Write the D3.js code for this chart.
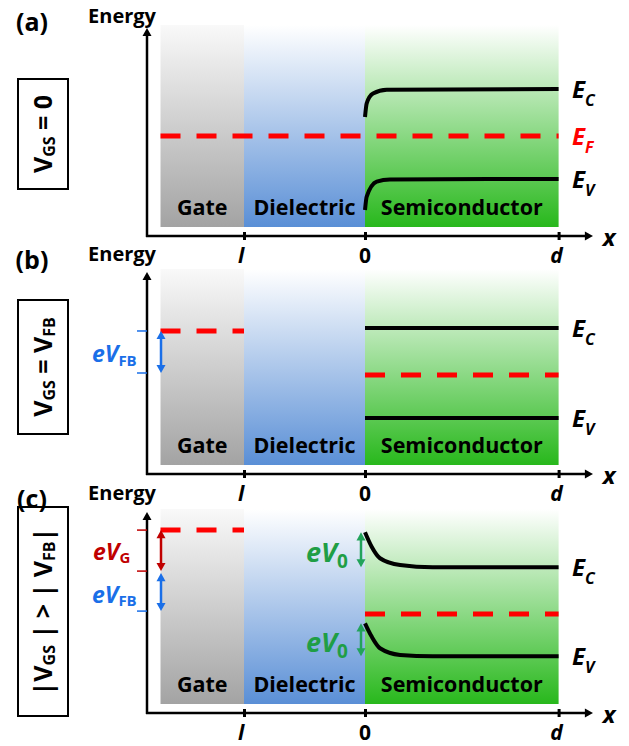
<!DOCTYPE html>
<html><head><meta charset="utf-8">
<script src="https://cdn.jsdelivr.net/npm/d3@7"></script>
<style>body{margin:0;background:#fff}</style>
</head><body><svg id="c" width="629" height="746"></svg>
<script>
// ---------- data ----------
const regionNames = ["Gate", "Dielectric", "Semiconductor"];
const regionEdges = [-1.69, -1, 0, 1.6];
const xTickValues = [-1, 0, 1.6];
const xTickLabels = ["l", "0", "d"];
const panelLabels = ["(a)", "(b)", "(c)"];

// panel (a): V_GS = 0
const bandXA_C = [0, 0.014, 0.066, 0.18, 1.6];
const ecA = [5.72, 6.38, 6.85, 7.03, 7.07];
const bandXA_V = [0, 0.014, 0.097, 0.206, 1.6];
const evA = [1.25, 1.89, 2.61, 2.72, 2.74];
const efA = 4.81;

// panel (b): V_GS = V_FB
const bandXB = [0, 1.6];
const ecB = [7.23, 7.23];
const evB = [2.77, 2.77];
const efB = 4.9;
const efGateB = 7.08;
const fbLowB = 5.0;

// panel (c): |V_GS| > |V_FB|
const bandXC = [0, 0.055, 0.124, 0.29, 0.56, 1.6];
const ecC = [8.99, 8.27, 7.70, 7.36, 7.25, 7.25];
const evC = [4.46, 3.80, 3.22, 2.89, 2.82, 2.82];
const efC = 4.93;
const efGateC = 9.10;
const gLowC = 7.06;
const fbLowC = 5.07;

// ---------- layout ----------
const FONT = "'Open Sans', 'Liberation Sans', sans-serif";
const svg = d3.select("#c");
const x = d3.scaleLinear().domain([-1, 0]).range([244, 365]);
const xAxisStart = 147, xAxisEnd = 593;
const panels = [
  {axisY: 236, h: 208, box: [79, 189]},
  {axisY: 474, h: 202, box: [300, 434]},
  {axisY: 713, h: 201, box: [507, 716]}
];
const colors = {
  gate: "#a3a3a3", diel: "#5a8fd6", semi: "#28b81c",
  red: "#ff0000", darkred: "#c00000", blue: "#1a6fe8", green: "#1f9e45", greenArrow: "#22a35a"
};

// gradients
const defs = svg.append("defs");
[["gGate", colors.gate, "#f9f9f9"], ["gDiel", colors.diel, "#ffffff"], ["gSemi", colors.semi, "#ffffff"]]
  .forEach(([id, bottom, top]) => {
    const g = defs.append("linearGradient").attr("id", id)
      .attr("x1", 0).attr("y1", 0).attr("x2", 0).attr("y2", 1);
    g.append("stop").attr("offset", 0).attr("stop-color", top);
    g.append("stop").attr("offset", 1).attr("stop-color", bottom);
  });
const gradIds = ["gGate", "gDiel", "gSemi"];

function arrowHead(g, tipX, tipY, dir, color, size) {
  const s = size || 5, L = s * 1.8;
  let pts;
  if (dir === "up") pts = [[tipX, tipY], [tipX - s, tipY + L], [tipX + s, tipY + L]];
  else if (dir === "down") pts = [[tipX, tipY], [tipX - s, tipY - L], [tipX + s, tipY - L]];
  else pts = [[tipX, tipY], [tipX - L, tipY - s], [tipX - L, tipY + s]];
  g.append("path").attr("d", d3.line()(pts) + "Z").attr("fill", color);
}

function doubleArrow(g, xPos, y1, y2, color) {
  const s = 4.5, L = 8;
  g.append("line").attr("x1", xPos).attr("x2", xPos).attr("y1", y1 + L - 1).attr("y2", y2 - L + 1)
    .attr("stroke", color).attr("stroke-width", 2.5);
  arrowHead(g, xPos, y1, "up", color, s);
  arrowHead(g, xPos, y2, "down", color, s);
}

function subText(g, xPos, yPos, parts, opts) {
  const t = g.append("text").attr("x", xPos).attr("y", yPos)
    .attr("font-family", FONT).attr("font-weight", "bold")
    .attr("fill", opts.color || "#000")
    .attr("font-size", opts.size);
  if (opts.anchor) t.attr("text-anchor", opts.anchor);
  if (opts.transform) t.attr("transform", opts.transform);
  let shifted = 0;
  parts.forEach(p => {
    const ts = t.append("tspan").text(p.t);
    if (p.italic) ts.attr("font-style", "italic");
    const target = p.sub ? (opts.subDy || 5) : 0;
    if (target !== shifted) { ts.attr("dy", target - shifted); shifted = target; }
    ts.attr("font-size", p.sub ? (opts.subSize || opts.size * 0.62) : opts.size);
  });
  return t;
}

const bandLine = d3.line().curve(d3.curveMonotoneX);

panels.forEach((P, i) => {
  const g = svg.append("g");
  const y = d3.scaleLinear().domain([0, 10]).range([P.axisY, P.axisY - P.h]);
  const topY = y(10);

  // regions
  regionNames.forEach((name, k) => {
    const x0 = x(regionEdges[k]), x1 = x(regionEdges[k + 1]);
    g.append("rect").attr("x", x0).attr("width", x1 - x0)
      .attr("y", topY - 3).attr("height", P.axisY - 9 - (topY - 3))
      .attr("fill", `url(#${gradIds[k]})`);
    g.append("text").attr("x", (x0 + x1) / 2).attr("y", P.axisY - 21)
      .attr("text-anchor", "middle").attr("font-family", FONT).attr("font-weight", "bold")
      .attr("font-size", 21.5).attr("fill", "#000").text(name);
  });

  // axes
  g.append("line").attr("x1", xAxisStart).attr("x2", xAxisStart)
    .attr("y1", P.axisY + 1).attr("y2", topY + 8).attr("stroke", "#000").attr("stroke-width", 2.5);
  arrowHead(g, xAxisStart, topY, "up", "#000", 4.5);
  g.append("line").attr("x1", xAxisStart - 1).attr("x2", xAxisEnd - 8)
    .attr("y1", P.axisY).attr("y2", P.axisY).attr("stroke", "#000").attr("stroke-width", 2.5);
  arrowHead(g, xAxisEnd, P.axisY, "right", "#000", 4.5);

  const ax = g.append("g").attr("transform", `translate(0,${P.axisY - 4})`)
    .call(d3.axisBottom(x).tickValues(xTickValues).tickSize(8).tickFormat(""));
  ax.select(".domain").remove();
  ax.selectAll(".tick line").attr("stroke", "#000").attr("stroke-width", 3);

  // tick labels below axis
  xTickValues.forEach((v, k) => {
    g.append("text").attr("x", x(v) + (k === 0 ? -3 : (k === 2 ? -2 : 0))).attr("y", P.axisY + 27)
      .attr("text-anchor", "middle").attr("font-family", FONT).attr("font-weight", "bold")
      .attr("font-style", k === 1 ? "normal" : "italic").attr("font-size", 21).text(xTickLabels[k]);
  });
  g.append("text").attr("x", 609).attr("y", P.axisY + 10).attr("text-anchor", "middle")
    .attr("font-family", FONT).attr("font-weight", "bold").attr("font-style", "italic")
    .attr("font-size", 24).text("x");

  // Energy + panel label
  g.append("text").attr("x", 122).attr("y", P.axisY - 213).attr("text-anchor", "middle")
    .attr("font-family", FONT).attr("font-weight", "bold").attr("font-size", 20).text("Energy");
  g.append("text").attr("x", 32).attr("y", P.axisY - 205).attr("text-anchor", "middle")
    .attr("font-family", FONT).attr("font-weight", "bold").attr("font-size", 25).text(panelLabels[i]);

  // box
  g.append("rect").attr("x", 18).attr("y", P.box[0]).attr("width", 50).attr("height", P.box[1] - P.box[0])
    .attr("fill", "none").attr("stroke", "#000").attr("stroke-width", 2);

  const cy = (P.box[0] + P.box[1]) / 2;
  let boxParts;
  if (i === 0) boxParts = [{t: "V"}, {t: "GS", sub: true}, {t: " = 0"}];
  else if (i === 1) boxParts = [{t: "V"}, {t: "GS", sub: true}, {t: " = V"}, {t: "FB", sub: true}];
  else boxParts = [{t: "|V"}, {t: "GS", sub: true}, {t: " | > | V"}, {t: "FB", sub: true}, {t: "|"}];
  subText(g, 0, 0, boxParts, {size: 25, subSize: 16, subDy: 3, anchor: "middle",
    transform: `translate(52,${cy}) rotate(-90)`});

  const dash = (x0, x1, v) => g.append("line").attr("x1", x(x0)).attr("x2", x(x1))
    .attr("y1", y(v)).attr("y2", y(v)).attr("stroke", colors.red).attr("stroke-width", 5)
    .attr("stroke-dasharray", "20,16");
  const band = (xs, vs) => g.append("path")
    .attr("d", bandLine(xs.map((xx, j) => [x(xx), y(vs[j])])))
    .attr("fill", "none").attr("stroke", "#000").attr("stroke-width", 4);
  const eLabel = (v, sub, color) => subText(g, 572, y(v) + 9,
    [{t: "E", italic: true}, {t: sub, sub: true, italic: true}],
    {size: 24, subSize: 16, subDy: 8, color: color});
  const tickMark = (v, color) => g.append("line").attr("x1", 137).attr("x2", 147)
    .attr("y1", y(v)).attr("y2", y(v)).attr("stroke", color).attr("stroke-width", 1.5);
  const eVLabel = (xPos, yPos, sub, color, size, subSize, subDy) => subText(g, xPos, yPos,
    [{t: "eV", italic: true}, {t: sub, sub: true}],
    {size: size, subSize: subSize, subDy: subDy, color: color});

  if (i === 0) {
    dash(regionEdges[0], 1.6, efA);
    band(bandXA_C, ecA);
    band(bandXA_V, evA);
    eLabel(ecA[ecA.length - 1], "C", "#000");
    eLabel(efA, "F", colors.red);
    eLabel(evA[evA.length - 1], "V", "#000");
  } else if (i === 1) {
    dash(regionEdges[0], -1, efGateB);
    dash(0, 1.6, efB);
    band(bandXB, ecB);
    band(bandXB, evB);
    eLabel(ecB[1], "C", "#000");
    eLabel(evB[1], "V", "#000");
    tickMark(efGateB, colors.blue);
    tickMark(fbLowB, colors.blue);
    doubleArrow(g, 161, y(efGateB), y(fbLowB), colors.blue);
    eVLabel(92, y(fbLowB) - 11, "FB", colors.blue, 23, 15, 4);
  } else {
    dash(regionEdges[0], -1, efGateC);
    dash(0, 1.6, efC);
    band(bandXC, ecC);
    band(bandXC, evC);
    eLabel(ecC[ecC.length - 1], "C", "#000");
    eLabel(evC[evC.length - 1], "V", "#000");
    tickMark(efGateC, colors.darkred);
    tickMark(gLowC, colors.darkred);
    tickMark(fbLowC, colors.blue);
    doubleArrow(g, 161, y(efGateC), y(gLowC), colors.darkred);
    doubleArrow(g, 161, y(gLowC) + 2, y(fbLowC), colors.blue);
    eVLabel(93, y(gLowC) - 11, "G", colors.darkred, 23, 15, 3);
    eVLabel(92, y(fbLowC) - 8, "FB", colors.blue, 23, 15, 3);
    doubleArrow(g, 361, y(ecC[0]), y(ecC[ecC.length - 1]), colors.greenArrow);
    doubleArrow(g, 361, y(evC[0]), y(evC[evC.length - 1]), colors.greenArrow);
    eVLabel(306, y(ecC[ecC.length - 1]) - 5, "0", colors.green, 27, 19, 6);
    eVLabel(306, y(evC[evC.length - 1]) - 4, "0", colors.green, 27, 19, 6);
  }
});
</script></body></html>
